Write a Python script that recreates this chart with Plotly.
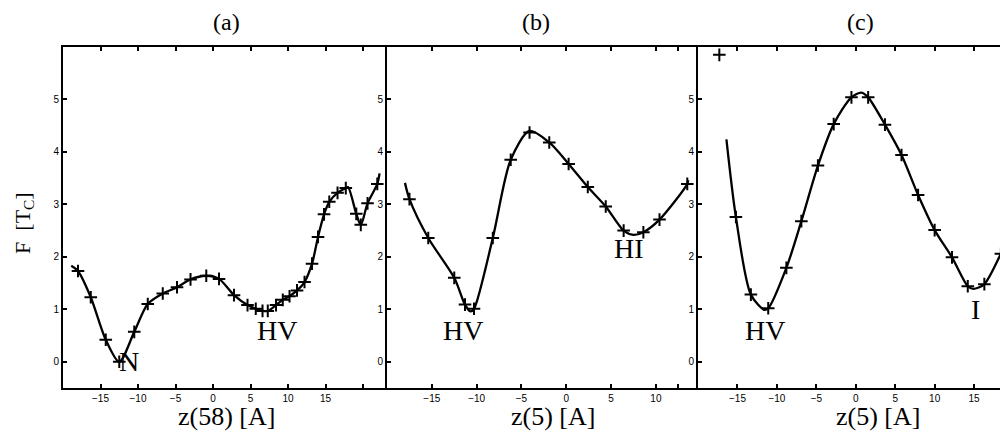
import plotly.graph_objects as go

# ---------------- data ----------------
# Panel (a): F vs z(58)
a_curve_x = [-18.9, -18.0, -16.3, -14.3, -12.5, -10.5, -8.7, -6.7, -4.8, -3.0, -0.9, 0.8, 2.8, 4.6,
             5.7, 6.6, 7.3, 8.4, 9.3, 10.2, 11.2, 12.2, 13.2, 14.0, 14.8, 15.5, 16.6, 17.7, 18.0,
             19.1, 19.7, 20.6, 21.9, 22.2]
a_curve_y = [1.83, 1.73, 1.23, 0.42, 0.0, 0.57, 1.10, 1.30, 1.42, 1.57, 1.64, 1.58, 1.27, 1.08,
             1.01, 0.97, 0.97, 1.08, 1.18, 1.25, 1.36, 1.52, 1.87, 2.38, 2.81, 3.05, 3.22, 3.31, 3.33,
             2.82, 2.61, 3.02, 3.39, 3.59]
a_mark_x = [-18.0, -16.3, -14.3, -12.5, -10.5, -8.7, -6.7, -4.8, -3.0, -0.9, 0.8, 2.8, 4.6,
            5.7, 6.6, 7.3, 8.4, 9.3, 10.2, 11.2, 12.2, 13.2, 14.0, 14.8, 15.5, 16.6, 17.7,
            19.1, 19.7, 20.6, 21.9]
a_mark_y = [1.73, 1.23, 0.42, 0.0, 0.57, 1.10, 1.30, 1.42, 1.57, 1.64, 1.58, 1.27, 1.08,
            1.01, 0.97, 0.97, 1.08, 1.18, 1.25, 1.36, 1.52, 1.87, 2.38, 2.81, 3.05, 3.22, 3.31,
            2.82, 2.61, 3.02, 3.39]

# Panel (b): F vs z(5)
b_curve_x = [-18.0, -17.5, -15.4, -12.5, -11.3, -10.7, -10.3, -8.2, -6.2, -4.1, -1.9, 0.26,
             2.4, 4.4, 6.4, 7.5, 8.6, 10.4, 13.5, 13.6]
b_curve_y = [3.41, 3.10, 2.36, 1.60, 1.09, 0.96, 1.01, 2.36, 3.85, 4.40, 4.18, 3.77,
             3.33, 2.96, 2.50, 2.42, 2.47, 2.71, 3.39, 3.46]
b_mark_x = [-17.5, -15.4, -12.5, -11.3, -10.3, -8.2, -6.2, -4.1, -1.9, 0.26, 2.4, 4.4,
            6.4, 8.6, 10.4, 13.5]
b_mark_y = [3.10, 2.36, 1.60, 1.09, 1.01, 2.36, 3.85, 4.37, 4.18, 3.77, 3.33, 2.96,
            2.50, 2.47, 2.71, 3.39]

# Panel (c): F vs z(5)
c_curve_x = [-16.4, -15.2, -13.3, -11.6, -11.1, -8.8, -6.9, -4.8, -2.8, -0.55, 0.72, 1.57,
             3.7, 5.8, 7.9, 10.0, 12.2, 14.2, 14.9, 16.3, 18.4, 18.6]
c_curve_y = [4.24, 2.76, 1.28, 0.99, 1.02, 1.79, 2.68, 3.74, 4.53, 5.04, 5.13, 5.04,
             4.52, 3.94, 3.18, 2.51, 1.99, 1.44, 1.39, 1.48, 2.06, 2.12]
c_mark_x = [-17.3, -15.2, -13.3, -11.1, -8.8, -6.9, -4.8, -2.8, -0.55, 1.57,
            3.7, 5.8, 7.9, 10.0, 12.2, 14.2, 16.3, 18.4]
c_mark_y = [5.85, 2.76, 1.28, 1.02, 1.79, 2.68, 3.74, 4.53, 5.04, 5.04,
            4.52, 3.94, 3.18, 2.51, 1.99, 1.44, 1.48, 2.06]

panel_titles = ["(a)", "(b)", "(c)"]
x_titles = ["z(58) [A]", "z(5) [A]", "z(5) [A]"]
y_title = "F  [T<sub>C</sub>]"
y_ticks = [0, 1, 2, 3, 4, 5]
a_xticks = [-15, -10, -5, 0, 5, 10, 15]
a_minor = [20]
b_xticks = [-15, -10, -5, 0, 5, 10]
b_minor = [12.5]
c_xticks = [-15, -10, -5, 0, 5, 10, 15]
c_minor = []
labels = [("N", -11.2, 0.0, 1), ("HV", 8.5, 0.6, 1), ("HV", -11.5, 0.6, 2),
          ("HI", 7.0, 2.15, 2), ("HV", -11.5, 0.6, 3), ("I", 15.2, 1.0, 3)]

# ---------------- figure ----------------
fig = go.Figure()
series = [(a_curve_x, a_curve_y, a_mark_x, a_mark_y),
          (b_curve_x, b_curve_y, b_mark_x, b_mark_y),
          (c_curve_x, c_curve_y, c_mark_x, c_mark_y)]
for i, (cx, cy, mx, my) in enumerate(series):
    xa = "x" if i == 0 else f"x{i+1}"
    ya = "y" if i == 0 else f"y{i+1}"
    fig.add_trace(go.Scatter(x=cx, y=cy, mode="lines",
                             line=dict(color="black", width=2.3, shape="spline", smoothing=0.8),
                             xaxis=xa, yaxis=ya, showlegend=False, hoverinfo="skip"))
    fig.add_trace(go.Scatter(x=mx, y=my, mode="markers",
                             marker=dict(symbol="cross-thin-open", size=9, color="black",
                                         line=dict(color="black", width=2)),
                             xaxis=xa, yaxis=ya, showlegend=False))

domains = [[0.0, 0.3429], [0.3429, 0.672], [0.672, 1.0]]
xranges = [[-20, 23.2], [-20, 14.7], [-20, 19.3]]
xtv = [(a_xticks, a_minor), (b_xticks, b_minor), (c_xticks, c_minor)]
tickfont = dict(family="Liberation Sans, Arial", size=10, color="black")
for i in range(3):
    xkey = "xaxis" if i == 0 else f"xaxis{i+1}"
    ykey = "yaxis" if i == 0 else f"yaxis{i+1}"
    anchor_y = "y" if i == 0 else f"y{i+1}"
    anchor_x = "x" if i == 0 else f"x{i+1}"
    xd = dict(domain=domains[i], range=xranges[i], anchor=anchor_y,
              tickvals=xtv[i][0], ticks="inside", ticklen=4,
              tickwidth=1.5, tickcolor="black", showline=True, linecolor="black",
              linewidth=2, mirror="allticks", showgrid=False, zeroline=False,
              tickfont=tickfont)
    if xtv[i][1]:
        xd["minor"] = dict(tickvals=xtv[i][1], ticks="inside", ticklen=4, tickwidth=1.5,
                           tickcolor="black", showgrid=False)
    fig.layout[xkey] = xd
    fig.layout[ykey] = dict(domain=[0, 1], range=[-0.5, 6], anchor=anchor_x,
                            tickvals=y_ticks, ticks="inside", ticklen=4, tickwidth=1.5,
                            tickcolor="black", showline=True, linecolor="black", linewidth=2,
                            mirror=False, showgrid=False, zeroline=False, tickfont=tickfont)

serif = "Liberation Serif, Times New Roman, serif"
annotations = []
title_x = [0.1735, 0.5005, 0.8435]
xt_x = [0.1735, 0.5185, 0.8625]
for i in range(3):
    annotations.append(dict(text=panel_titles[i], x=title_x[i], y=1.074, xref="paper", yref="paper",
                            showarrow=False, font=dict(family=serif, size=24, color="black"),
                            xanchor="center", yanchor="middle"))
    annotations.append(dict(text=x_titles[i], x=xt_x[i], y=-0.085, xref="paper", yref="paper",
                            showarrow=False, font=dict(family=serif, size=26, color="black"),
                            xanchor="center", yanchor="middle"))
annotations.append(dict(text=y_title, x=-0.042, y=0.485, xref="paper", yref="paper", textangle=-90,
                        showarrow=False, font=dict(family=serif, size=22, color="black"),
                        xanchor="center", yanchor="middle"))
for txt, lx, ly, p in labels:
    xr = "x" if p == 1 else f"x{p}"
    yr = "y" if p == 1 else f"y{p}"
    annotations.append(dict(text=txt, x=lx, y=ly, xref=xr, yref=yr, showarrow=False,
                            font=dict(family=serif, size=28, color="black"),
                            xanchor="center", yanchor="middle"))

# page body has an 8px margin, so the figure is shifted accordingly
fig.update_layout(width=1000, height=423, margin=dict(l=55, r=0, t=39, b=43),
                  plot_bgcolor="white", paper_bgcolor="white", annotations=annotations)

fig.write_html("out.html")
